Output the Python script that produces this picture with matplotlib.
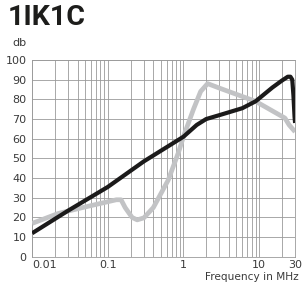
"""Attenuation curves for the 1IK1C filter."""

import matplotlib

matplotlib.use("Agg")

import matplotlib.pyplot as plt
from matplotlib.ticker import FixedLocator, NullFormatter

# black curve
black_freq = [0.01, 0.03, 0.1, 0.3, 1.0, 1.5, 2.0, 3.0, 6.0, 9.0, 15.0, 20.0, 24.0, 26.0, 27.5, 28.5, 29.5, 30.0]
black_db = [12, 23.5, 35.5, 48.5, 61, 67, 70, 72, 75.5, 79, 86, 89.5, 91.5, 91.5, 90, 82, 71, 68]

# grey curve
grey_freq = [0.01, 0.022, 0.046, 0.1, 0.13, 0.15, 0.17, 0.21, 0.245, 0.3, 0.4, 0.63, 0.86, 1.0, 1.36, 1.69, 2.09, 3.1, 9.0, 22.0, 25.0, 30.0]
grey_db = [17, 22, 25, 28, 29, 29, 25, 20, 18.8, 19.8, 25, 39, 53, 61, 75, 84, 88, 85.5, 79, 70.5, 67, 63.5]

x_ticks = [0.01, 0.1, 1, 10, 30]
x_tick_labels = ["0.01", "0.1", "1", "10", "30"]
y_ticks = list(range(0, 101, 10))

fig = plt.figure(figsize=(3.03, 2.87), dpi=100)
ax = fig.add_axes([0.106, 0.105, 0.868, 0.686])

ax.plot(grey_freq, grey_db, color="#c2c3c5", linewidth=3.4, solid_capstyle="butt", zorder=3)
ax.plot(black_freq, black_db, color="#1b1a1a", linewidth=3.0, solid_capstyle="butt", zorder=4)

ax.set_xscale("log")
ax.set_xlim(0.01, 30)
ax.set_ylim(0, 100)

minor = [m * 10.0 ** e for e in range(-2, 2) for m in range(2, 10)]
ax.xaxis.set_minor_locator(FixedLocator([v for v in minor if v < 30]))
ax.xaxis.set_minor_formatter(NullFormatter())
ax.set_xticks(x_ticks)
ax.set_xticklabels(x_tick_labels)
ax.set_yticks(y_ticks)

ax.grid(True, which="both", axis="x", color="#9a9a9a", linewidth=0.6)
ax.grid(True, which="major", axis="y", color="#9a9a9a", linewidth=0.6)
for s in ax.spines.values():
    s.set_color("#9a9a9a")
    s.set_linewidth(0.6)

ax.tick_params(which="both", length=0, labelsize=8, labelcolor="#3a3a3a")
ax.tick_params(axis="x", pad=2)
ax.tick_params(axis="y", pad=4)
ax.get_xticklabels()[0].set_horizontalalignment("left")

fig.text(8 / 303, 1 - 4 / 287, "1IK1C", fontsize=20.5, family="Roboto", fontweight="bold",
         color="#1d1d1b", va="top", ha="left")
fig.text(12 / 303, 1 - 38 / 287, "db", fontsize=8, color="#3a3a3a", va="top", ha="left")
fig.text(1 - 4 / 303, 1 - 272 / 287, "Frequency in MHz", fontsize=7.6, color="#3a3a3a",
         va="top", ha="right")

fig.savefig("out.png", dpi=100)
plt.close(fig)
